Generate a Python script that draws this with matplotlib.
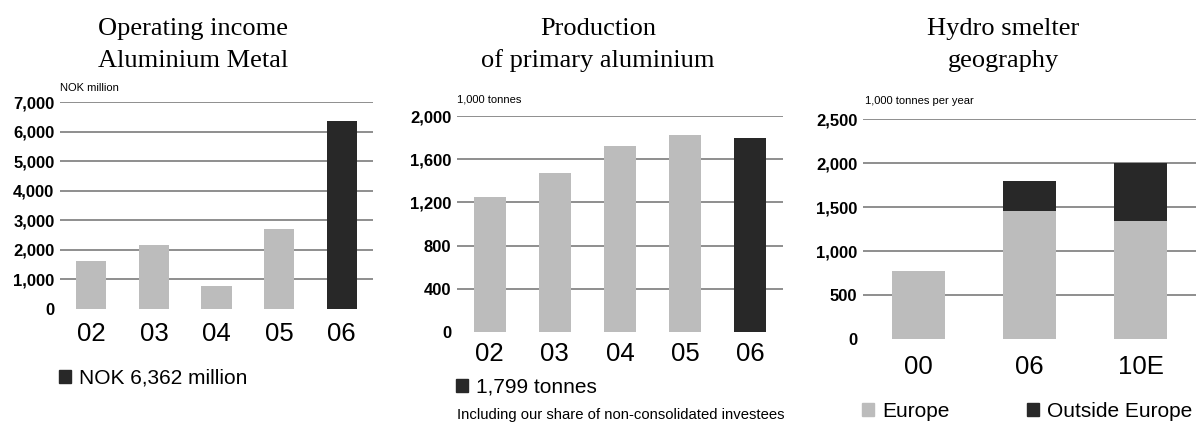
import matplotlib
matplotlib.use("Agg")
import matplotlib.pyplot as plt
from matplotlib.patches import Patch

# chart values
years_income = ["02", "03", "04", "05", "06"]
income = [1630, 2165, 790, 2695, 6362]

years_prod = ["02", "03", "04", "05", "06"]
production = [1250, 1472, 1722, 1824, 1799]

years_geo = ["00", "06", "10E"]
europe = [780, 1460, 1340]
outside_europe = [0, 340, 660]

LIGHT = "#bcbcbc"
DARK = "#282828"
GRID = "#707070"

plt.rcParams["font.family"] = ["Liberation Sans", "DejaVu Sans"]

fig = plt.figure(figsize=(11.96, 4.23), dpi=100)


def style_axis(ax, ymax, step, xpad):
    ax.set_ylim(0, ymax)
    ax.set_yticks(range(0, ymax + 1, step))
    ax.set_yticklabels([f"{v:,}" for v in range(0, ymax + 1, step)],
                       fontsize=12, fontweight="bold")
    ax.tick_params(axis="y", length=0, pad=4)
    ax.tick_params(axis="x", length=0, pad=xpad, labelsize=18.5)
    for s in ax.spines.values():
        s.set_visible(False)
    ax.set_axisbelow(True)
    ax.yaxis.grid(True, color=GRID, linewidth=1.1)
    ax.yaxis.get_gridlines()[0].set_visible(False)
    ax.set_xlim(-0.5, len(ax.get_xticks()) - 0.5)


def title(x, lines):
    fig.text(x, 1 - 35 / 423, lines[0], ha="center", va="baseline",
             family="Liberation Serif", fontsize=19)
    fig.text(x, 1 - 67 / 423, lines[1], ha="center", va="baseline",
             family="Liberation Serif", fontsize=19)


def legend(handles, labels, x, y, **kw):
    fig.legend(handles=handles, labels=labels, loc="center left",
               bbox_to_anchor=(x / 1196, 1 - y / 423), frameon=False,
               fontsize=15, handlelength=0.58, handleheight=0.58,
               handletextpad=0.4, borderpad=0, borderaxespad=0, **kw)


# --- Operating income ---
ax1 = fig.add_axes([60 / 1196, 1 - 309 / 423, 313 / 1196, 207 / 423])
colors1 = [LIGHT] * (len(income) - 1) + [DARK]
ax1.bar(years_income, income, width=0.48, color=colors1)
style_axis(ax1, 7000, 1000, 9)
title(193 / 1196, ["Operating income", "Aluminium Metal"])
fig.text(60 / 1196, 1 - 88 / 423, "NOK million", fontsize=8, va="center")
legend([Patch(color=DARK)], ["NOK 6,362 million"], 59, 378)

# --- Production ---
ax2 = fig.add_axes([457 / 1196, 1 - 332 / 423, 326 / 1196, 216 / 423])
colors2 = [LIGHT] * (len(production) - 1) + [DARK]
ax2.bar(years_prod, production, width=0.49, color=colors2)
style_axis(ax2, 2000, 400, 7)
title(598 / 1196, ["Production", "of primary aluminium"])
fig.text(457 / 1196, 1 - 99 / 423, "1,000 tonnes", fontsize=8, va="center")
legend([Patch(color=DARK)], ["1,799 tonnes"], 456, 387)
fig.text(457 / 1196, 1 - 415 / 423,
         "Including our share of non-consolidated investees",
         fontsize=10.7, va="center")

# --- Smelter geography ---
ax3 = fig.add_axes([863 / 1196, 1 - 339.3 / 423, 333 / 1196, 220.3 / 423])
ax3.bar(years_geo, europe, width=0.48, color=LIGHT, label="Europe")
ax3.bar(years_geo, outside_europe, width=0.48, bottom=europe, color=DARK,
        label="Outside Europe")
style_axis(ax3, 2500, 500, 11)
title(1003 / 1196, ["Hydro smelter", "geography"])
fig.text(865 / 1196, 1 - 101 / 423, "1,000 tonnes per year", fontsize=8,
         va="center")
legend([Patch(color=LIGHT), Patch(color=DARK)], ["Europe", "Outside Europe"],
       862, 411, ncol=2, columnspacing=3.7)

fig.savefig("out.png", dpi=100)
